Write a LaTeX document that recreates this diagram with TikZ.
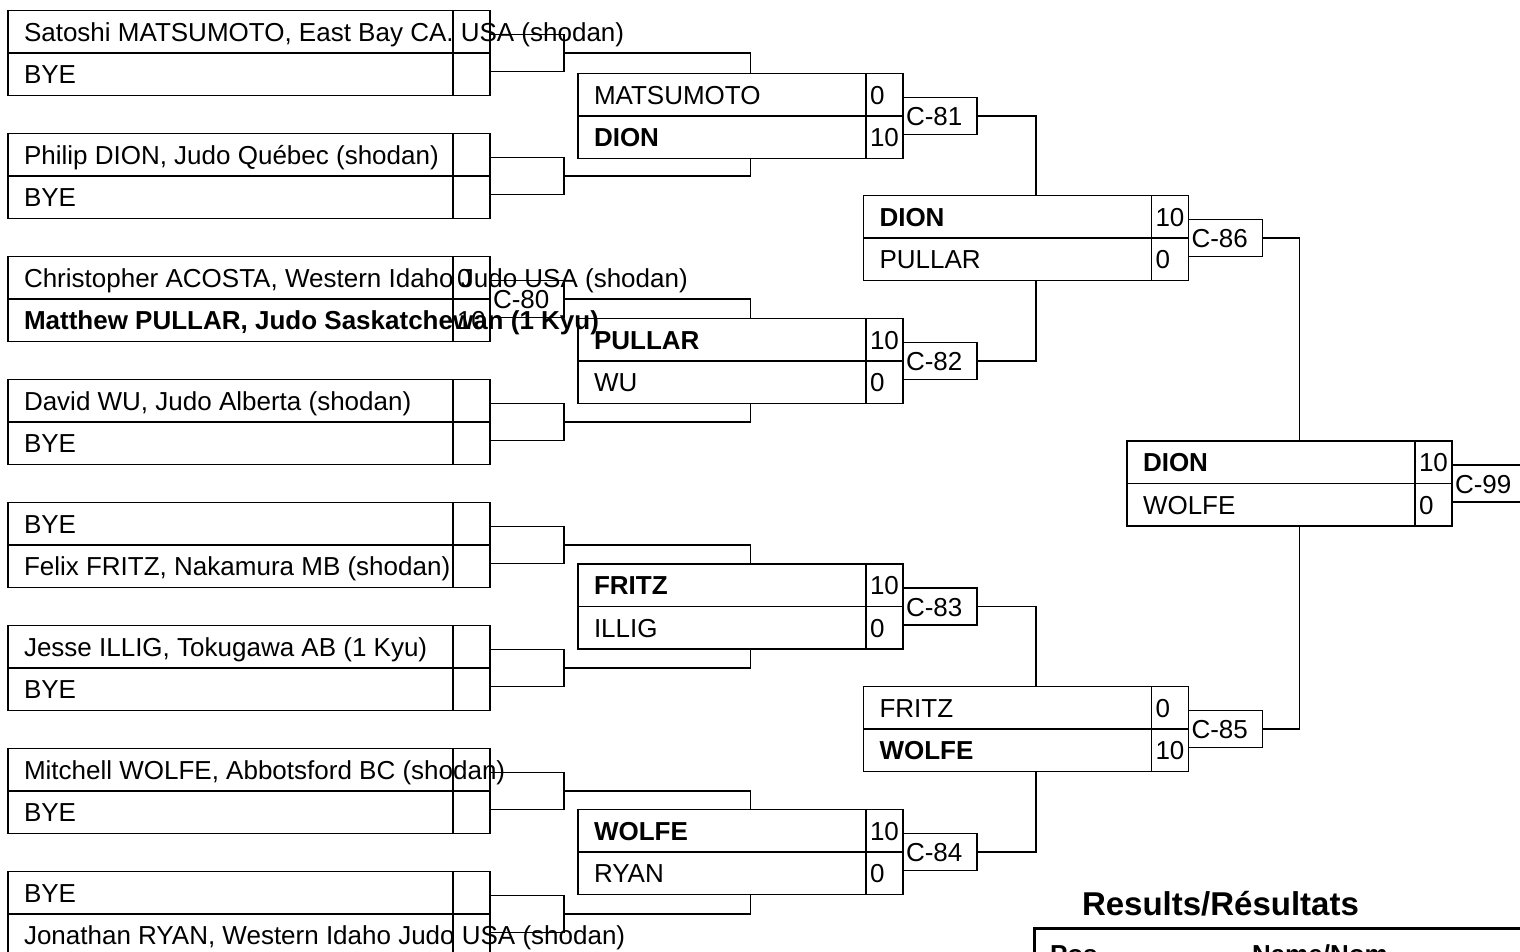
\documentclass[tikz,border=0pt]{standalone}
\usepackage{fontspec}
\setmainfont{Liberation Sans}
\begin{document}
\begin{tikzpicture}[x=1pt,y=1pt]
\tikzstyle{every node}+=[inner sep=0pt, outer sep=0pt]
\tikzstyle{ln}=[black, line width=1.5pt]
\tikzstyle{entry}=[draw, ln, minimum width=482, minimum height=42.5, anchor=north west]
\tikzstyle{bout}=[draw, ln, minimum width=325, minimum height=42.5, anchor=north west]
\tikzstyle{match}=[draw, ln, minimum width=74, minimum height=37, anchor=west]
\tikzstyle{nm}=[anchor=base west, font=\fontsize{26}{30}\selectfont]
\tikzstyle{nmb}=[nm, font=\fontsize{26}{30}\selectfont\bfseries]
\useasboundingbox (0,0) rectangle (1520,-952);
\node[entry] (a1) at (8,-10.5) {};
\node[entry] (b1) at (8,-53) {};
\node[entry] (a2) at (8,-133.5) {};
\node[entry] (b2) at (8,-176) {};
\node[entry] (a3) at (8,-256.5) {};
\node[entry] (b3) at (8,-299) {};
\node[entry] (a4) at (8,-379.5) {};
\node[entry] (b4) at (8,-422) {};
\node[entry] (a5) at (8,-502.5) {};
\node[entry] (b5) at (8,-545) {};
\node[entry] (a6) at (8,-625.5) {};
\node[entry] (b6) at (8,-668) {};
\node[entry] (a7) at (8,-748.5) {};
\node[entry] (b7) at (8,-791) {};
\node[entry] (a8) at (8,-871.5) {};
\node[entry] (b8) at (8,-914) {};
\draw[ln] ([xshift=-37]a1.north east) -- ([xshift=-37]b1.south east);
\draw[ln] ([xshift=-37]a2.north east) -- ([xshift=-37]b2.south east);
\draw[ln] ([xshift=-37]a3.north east) -- ([xshift=-37]b3.south east);
\draw[ln] ([xshift=-37]a4.north east) -- ([xshift=-37]b4.south east);
\draw[ln] ([xshift=-37]a5.north east) -- ([xshift=-37]b5.south east);
\draw[ln] ([xshift=-37]a6.north east) -- ([xshift=-37]b6.south east);
\draw[ln] ([xshift=-37]a7.north east) -- ([xshift=-37]b7.south east);
\draw[ln] ([xshift=-37]a8.north east) -- ([xshift=-37]b8.south east);
\node[nm] (na1) at ([shift={(16,-9.5)}]a1.west) {Satoshi MATSUMOTO, East Bay CA. USA (shodan)};
\node[nm] (nb1) at ([shift={(16,-9.5)}]b1.west) {BYE};
\node[nm] (na2) at ([shift={(16,-9.5)}]a2.west) {Philip DION, Judo Québec (shodan)};
\node[nm] (nb2) at ([shift={(16,-9.5)}]b2.west) {BYE};
\node[nm] (na3) at ([shift={(16,-9.5)}]a3.west) {Christopher ACOSTA, Western Idaho Judo USA (shodan)};
\node[nmb] (nb3) at ([shift={(16,-9.5)}]b3.west) {Matthew PULLAR, Judo Saskatchewan (1 Kyu)};
\node[nm] (sa3) at ([shift={(-33,-9.5)}]a3.east) {0};
\node[nm] (sb3) at ([shift={(-33,-9.5)}]b3.east) {10};
\node[nm] (na4) at ([shift={(16,-9.5)}]a4.west) {David WU, Judo Alberta (shodan)};
\node[nm] (nb4) at ([shift={(16,-9.5)}]b4.west) {BYE};
\node[nm] (na5) at ([shift={(16,-9.5)}]a5.west) {BYE};
\node[nm] (nb5) at ([shift={(16,-9.5)}]b5.west) {Felix FRITZ, Nakamura MB (shodan)};
\node[nm] (na6) at ([shift={(16,-9.5)}]a6.west) {Jesse ILLIG, Tokugawa AB (1 Kyu)};
\node[nm] (nb6) at ([shift={(16,-9.5)}]b6.west) {BYE};
\node[nm] (na7) at ([shift={(16,-9.5)}]a7.west) {Mitchell WOLFE, Abbotsford BC (shodan)};
\node[nm] (nb7) at ([shift={(16,-9.5)}]b7.west) {BYE};
\node[nm] (na8) at ([shift={(16,-9.5)}]a8.west) {BYE};
\node[nm] (nb8) at ([shift={(16,-9.5)}]b8.west) {Jonathan RYAN, Western Idaho Judo USA (shodan)};
\node[match] (m1) at (b1.north east) {};
\node[match] (m2) at (b2.north east) {};
\node[match] (m3) at (b3.north east) {};
\node[nm] (lm3) at ([shift={(3,-9.5)}]m3.west) {C-80};
\node[match] (m4) at (b4.north east) {};
\node[match] (m5) at (b5.north east) {};
\node[match] (m6) at (b6.north east) {};
\node[match] (m7) at (b7.north east) {};
\node[match] (m8) at (b8.north east) {};
\node[bout] (c1) at (578,-73.5) {};
\node[bout] (d1) at (578,-116) {};
\node[bout] (c2) at (578,-318.5) {};
\node[bout] (d2) at (578,-361) {};
\node[bout] (c3) at (578,-564) {};
\node[bout] (d3) at (578,-606.5) {};
\node[bout] (c4) at (578,-809.5) {};
\node[bout] (d4) at (578,-852) {};
\draw[ln] ([xshift=-37]c1.north east) -- ([xshift=-37]d1.south east);
\draw[ln] ([xshift=-37]c2.north east) -- ([xshift=-37]d2.south east);
\draw[ln] ([xshift=-37]c3.north east) -- ([xshift=-37]d3.south east);
\draw[ln] ([xshift=-37]c4.north east) -- ([xshift=-37]d4.south east);
\node[nm] (nc1) at ([shift={(16,-9.5)}]c1.west) {MATSUMOTO};
\node[nm] (sc1) at ([shift={(-33,-9.5)}]c1.east) {0};
\node[nmb] (nd1) at ([shift={(16,-9.5)}]d1.west) {DION};
\node[nm] (sd1) at ([shift={(-33,-9.5)}]d1.east) {10};
\node[nmb] (nc2) at ([shift={(16,-9.5)}]c2.west) {PULLAR};
\node[nm] (sc2) at ([shift={(-33,-9.5)}]c2.east) {10};
\node[nm] (nd2) at ([shift={(16,-9.5)}]d2.west) {WU};
\node[nm] (sd2) at ([shift={(-33,-9.5)}]d2.east) {0};
\node[nmb] (nc3) at ([shift={(16,-9.5)}]c3.west) {FRITZ};
\node[nm] (sc3) at ([shift={(-33,-9.5)}]c3.east) {10};
\node[nm] (nd3) at ([shift={(16,-9.5)}]d3.west) {ILLIG};
\node[nm] (sd3) at ([shift={(-33,-9.5)}]d3.east) {0};
\node[nmb] (nc4) at ([shift={(16,-9.5)}]c4.west) {WOLFE};
\node[nm] (sc4) at ([shift={(-33,-9.5)}]c4.east) {10};
\node[nm] (nd4) at ([shift={(16,-9.5)}]d4.west) {RYAN};
\node[nm] (sd4) at ([shift={(-33,-9.5)}]d4.east) {0};
\draw[ln] (m1.east) -| ([xshift=10]c1.north);
\draw[ln] (m2.east) -| ([xshift=10]d1.south);
\draw[ln] (m3.east) -| ([xshift=10]c2.north);
\draw[ln] (m4.east) -| ([xshift=10]d2.south);
\draw[ln] (m5.east) -| ([xshift=10]c3.north);
\draw[ln] (m6.east) -| ([xshift=10]d3.south);
\draw[ln] (m7.east) -| ([xshift=10]c4.north);
\draw[ln] (m8.east) -| ([xshift=10]d4.south);
\node[match] (n1) at (d1.north east) {};
\node[nm] (ln1) at ([shift={(3,-9.5)}]n1.west) {C-81};
\node[match] (n2) at (d2.north east) {};
\node[nm] (ln2) at ([shift={(3,-9.5)}]n2.west) {C-82};
\node[match] (n3) at (d3.north east) {};
\node[nm] (ln3) at ([shift={(3,-9.5)}]n3.west) {C-83};
\node[match] (n4) at (d4.north east) {};
\node[nm] (ln4) at ([shift={(3,-9.5)}]n4.west) {C-84};
\node[bout] (e1) at (863.5,-195.5) {};
\node[bout] (f1) at (863.5,-238) {};
\node[bout] (e2) at (863.5,-686.5) {};
\node[bout] (f2) at (863.5,-729) {};
\draw[ln] ([xshift=-37]e1.north east) -- ([xshift=-37]f1.south east);
\draw[ln] ([xshift=-37]e2.north east) -- ([xshift=-37]f2.south east);
\node[nmb] (ne1) at ([shift={(16,-9.5)}]e1.west) {DION};
\node[nm] (se1) at ([shift={(-33,-9.5)}]e1.east) {10};
\node[nm] (nf1) at ([shift={(16,-9.5)}]f1.west) {PULLAR};
\node[nm] (sf1) at ([shift={(-33,-9.5)}]f1.east) {0};
\node[nm] (ne2) at ([shift={(16,-9.5)}]e2.west) {FRITZ};
\node[nm] (se2) at ([shift={(-33,-9.5)}]e2.east) {0};
\node[nmb] (nf2) at ([shift={(16,-9.5)}]f2.west) {WOLFE};
\node[nm] (sf2) at ([shift={(-33,-9.5)}]f2.east) {10};
\draw[ln] (n1.east) -| ([xshift=10]e1.north);
\draw[ln] (n2.east) -| ([xshift=10]f1.south);
\draw[ln] (n3.east) -| ([xshift=10]e2.north);
\draw[ln] (n4.east) -| ([xshift=10]f2.south);
\node[match] (o1) at (f1.north east) {};
\node[nm] (lo1) at ([shift={(3,-9.5)}]o1.west) {C-86};
\node[match] (o2) at (f2.north east) {};
\node[nm] (lo2) at ([shift={(3,-9.5)}]o2.west) {C-85};
\node[bout] (g) at (1127,-441) {};
\node[bout] (h) at (1127,-483.5) {};
\draw[ln] ([xshift=-37]g.north east) -- ([xshift=-37]h.south east);
\node[nmb] (ng) at ([shift={(16,-9.5)}]g.west) {DION};
\node[nm] (sg) at ([shift={(-33,-9.5)}]g.east) {10};
\node[nm] (nh) at ([shift={(16,-9.5)}]h.west) {WOLFE};
\node[nm] (sh) at ([shift={(-33,-9.5)}]h.east) {0};
\draw[ln] (o1.east) -| ([xshift=10]g.north);
\draw[ln] (o2.east) -| ([xshift=10]h.south);
\node[match] (p) at (h.north east) {};
\node[nm] (lp) at ([shift={(3,-9.5)}]p.west) {C-99};
\node[anchor=base west, font=\fontsize{33}{38}\selectfont\bfseries] (title) at (1082,-915) {Results/Résultats};
\node[draw, line width=3pt, minimum width=600, minimum height=200, anchor=north west] (res) at (1034,-928) {};
\node[nmb] (hpos) at ([shift={(16,-35)}]res.north west) {Pos};
\node[nmb] (hname) at ([shift={(218,-35)}]res.north west) {Name/Nom};
\end{tikzpicture}
\end{document}
